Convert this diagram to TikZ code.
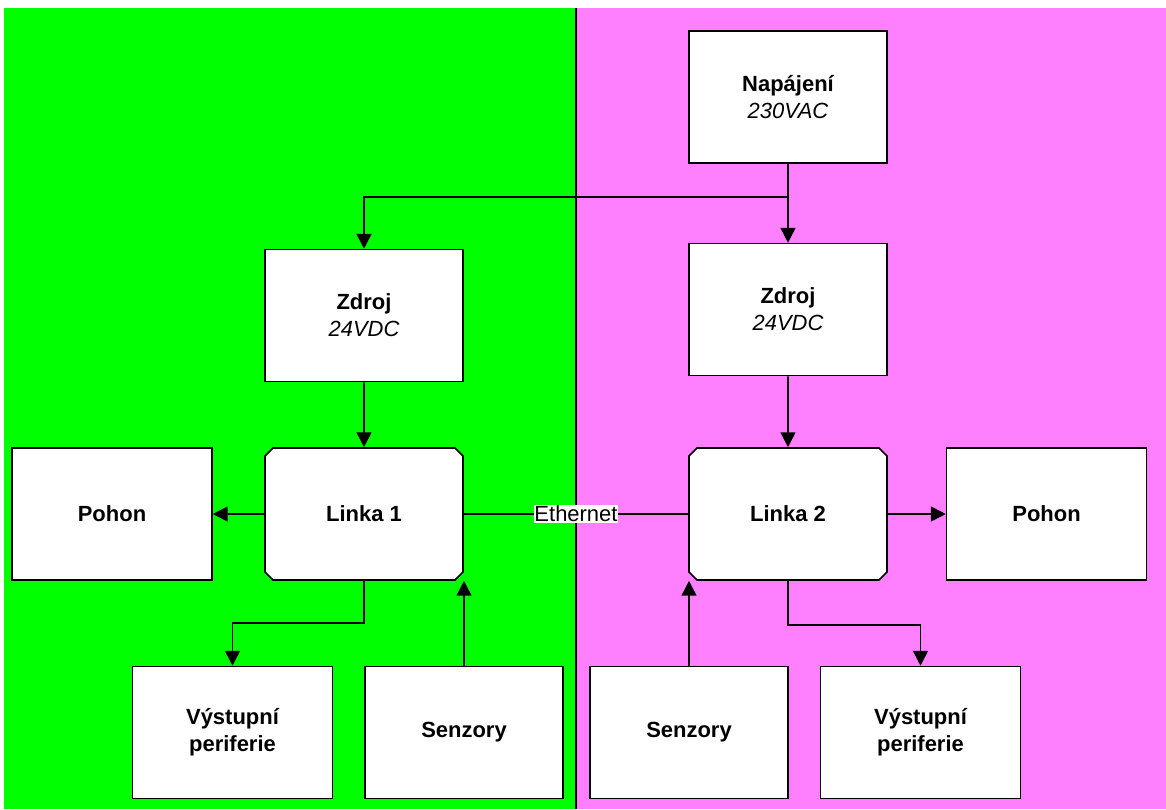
\documentclass[tikz,border=0pt]{standalone}
\usepackage{fontspec}
\setmainfont{Liberation Sans}
\usepackage{tikz}
\usetikzlibrary{arrows.meta, positioning, shapes.misc}

\definecolor{zelena}{RGB}{0,255,0}
\definecolor{ruzova}{RGB}{255,128,255}
\newcommand{\hodnota}[1]{{\mdseries\itshape #1}}

\tikzset{
    blok/.style={draw, fill=white, line width=0.9pt, minimum width=3.96cm,
        minimum height=2.64cm, inner sep=0pt, align=center,
        font=\bfseries\fontsize{12.5}{15.5}\selectfont},
    linkablok/.style={blok, chamfered rectangle, chamfered rectangle xsep=0.08cm,
        chamfered rectangle ysep=0.08cm},
    spoj/.style={line width=0.9pt}
}

\begin{document}
\begin{tikzpicture}[x=0.02cm, y=-0.02cm, >={Triangle[width=8.5pt,length=8.5pt]}]
            \useasboundingbox (0,0) rectangle (1166,809);
            % pozadi
            \fill[zelena] (4,8) rectangle (576,809);
            \fill[ruzova] (576,8) rectangle (1166,809);
            \draw[spoj] (576,8) -- (576,809);

            % bloky
            \node[blok]      (napajeni) at (788,97)    {Napájení\\\hodnota{230VAC}};
            \node[blok]      (zdroj1)   at (364,315.5) {Zdroj\\\hodnota{24VDC}};
            \node[blok]      (zdroj2)   at (788,309.5) {Zdroj\\\hodnota{24VDC}};
            \node[linkablok] (linka1)   at (364,514)   {Linka 1};
            \node[linkablok] (linka2)   at (788,514)   {Linka 2};
            \node[blok, minimum width=4cm] (pohon1) at (112,514)    {Pohon};
            \node[blok, minimum width=4cm] (pohon2) at (1046.5,514) {Pohon};
            \node[blok, minimum width=4cm] (vystup1)  at (232.5,732.5) {Výstupní\\periferie};
            \node[blok]      (senzory1) at (464,732.5) {Senzory};
            \node[blok]      (senzory2) at (689,732.5) {Senzory};
            \node[blok, minimum width=4cm] (vystup2)  at (920.5,732.5) {Výstupní\\periferie};

            \coordinate (rozbocka) at (788,197);

            % spoje
            \draw[spoj,->] (napajeni) -- (zdroj2);
            \draw[spoj,->] (rozbocka) -| (zdroj1.north);
            \draw[spoj,->] (zdroj1) -- (linka1);
            \draw[spoj,->] (zdroj2) -- (linka2);
            \draw[spoj,->] (linka1) -- (pohon1);
            \draw[spoj,->] (linka2) -- (pohon2);
            \draw[spoj] (linka1) -- node[fill=white, inner sep=0.5pt,
                font=\fontsize{12.5}{15}\selectfont] {Ethernet} (linka2);
            \draw[spoj,->] (linka1.south) -- ++(0,42) -| (vystup1.north);
            \draw[spoj,->] (linka2.south) -- ++(0,44) -| (vystup2.north);
            \draw[spoj,->] (senzory1.north) -- (senzory1.north |- linka1.south);
            \draw[spoj,->] (senzory2.north) -- (senzory2.north |- linka2.south);
\end{tikzpicture}
\end{document}
